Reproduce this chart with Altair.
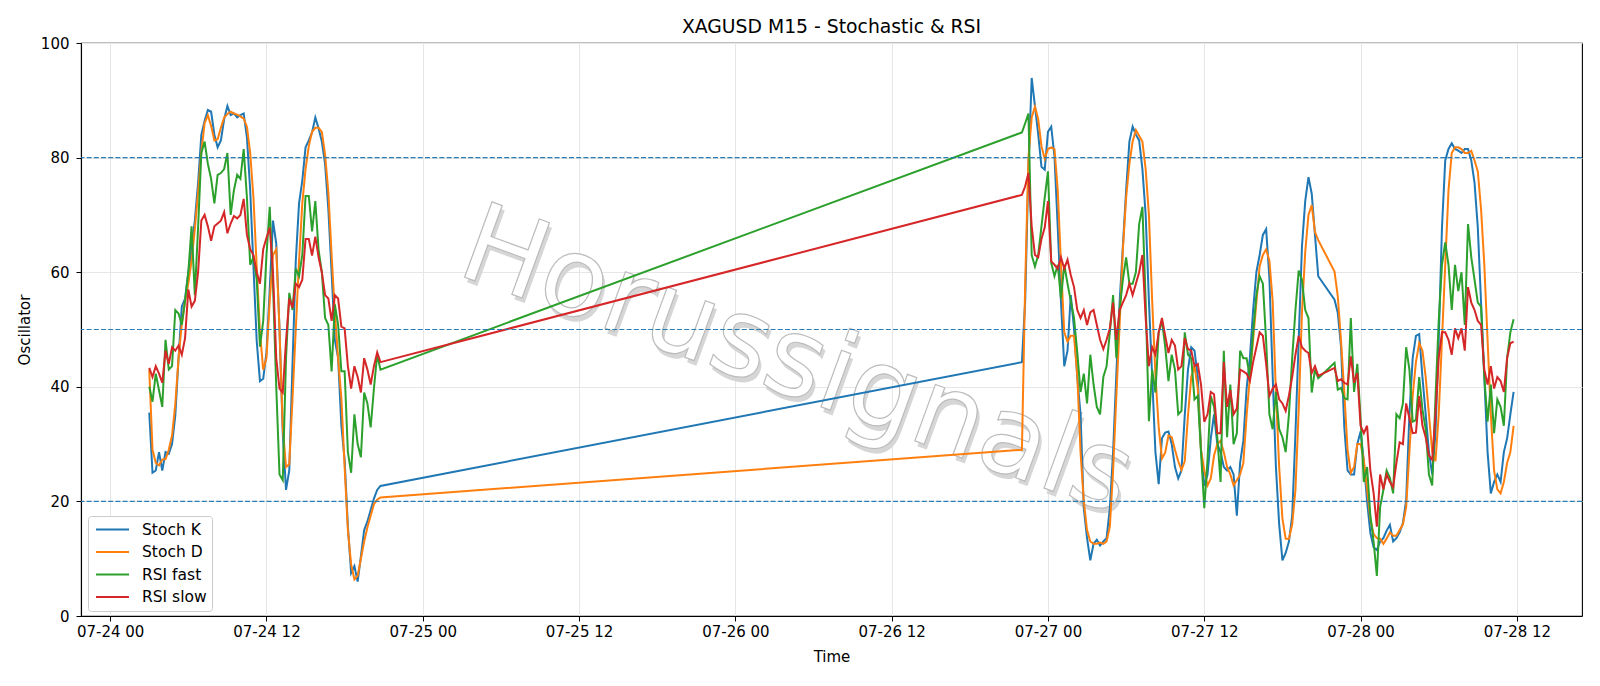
import altair as alt
import pandas as pd

# ---------------- data ----------------
SERIES = ["Stoch K", "Stoch D", "RSI fast", "RSI slow"]
COLORS = ["#1f77b4", "#ff7f0e", "#2ca02c", "#d62728"]

SEG1_START = "2020-07-24 03:00"   # Friday session
SEG2_START = "2020-07-26 22:00"   # Sunday re-open

# segment 1 (15-minute bars)
K1 = [35.5, 25, 25.4, 28.6, 25.4, 28.6, 28.3, 30, 35, 45,
      54, 55.4, 60, 64, 69, 75.6, 84, 86.4, 88.3, 88,
      84, 81.8, 83, 86.7, 89, 87.4, 87.7, 87, 87.4, 87.7,
      83.5, 74.3, 61, 48, 41, 41.4, 46, 57, 69, 65,
      50, 32, 22, 25.4, 44, 62, 72, 76, 81.8, 83,
      84.4, 87, 85.1, 82.8, 78.9, 71, 60, 48.2, 45, 33.2,
      27.3, 15.6, 7.5, 8.7, 6, 10.4, 15, 16.5, 18.5, 20.5,
      22, 22.7]
D1 = [43, 29, 26.7, 26.3, 27.3, 27.4, 29, 31.5, 37, 45,
      51, 55, 58, 62, 67.5, 74, 81, 86, 87.4, 85.5,
      83, 83.2, 85.2, 87, 87.6, 88, 87.7, 87.5, 87.2, 86.8,
      85.4, 80.8, 73, 61, 49.5, 43, 45, 55, 63, 64,
      50, 33, 26, 26.5, 38, 50, 62, 72, 78, 82,
      84.5, 85.2, 85.2, 84.5, 80.5, 74, 63, 53, 45, 38,
      26, 15, 9, 6.4, 7, 10, 13, 15.5, 17.5, 19.5,
      20.3, 20.7]
F1 = [40, 37.4, 42.3, 39.4, 36.5, 48.2, 43, 43.6, 53.4, 52.8,
      50.8, 55, 60, 68, 56, 67.8, 80.8, 82.8, 78.9, 76.3,
      72, 77, 77.3, 78, 80.8, 70, 74.3, 77, 76.3, 81.5,
      73, 61.3, 62.6, 58.7, 47, 51.5, 63, 71.4, 58, 40,
      24.7, 23.7, 45, 56.4, 53.4, 60.6, 59.3, 63, 73.3, 73.3,
      67.1, 72.4, 63.9, 60, 52, 50.8, 42.7, 54.4, 50.8, 42.7,
      42.7, 28.6, 25, 35.2, 30, 27.7, 39, 37.1, 32.9, 39.7,
      45.6, 43]
S1 = [43.3, 41.7, 43.6, 42.3, 40.7, 46.3, 44, 46.9, 46.3, 47.2,
      45.6, 48.5, 57, 54, 55, 60, 69, 70, 68, 65.5,
      68, 68.5, 69, 70.5, 66.8, 68.5, 69.8, 69.4, 70, 72.8,
      66.5, 64, 63, 60, 58, 64, 66, 67.8, 60, 45,
      39.7, 39, 48, 55.4, 53.8, 58, 57.4, 58.7, 65.8, 65.8,
      62.9, 66.2, 62.6, 60, 56, 55.4, 51.5, 56, 55.4, 50.5,
      50.2, 43.6, 39.7, 43.6, 41.7, 39, 45, 43, 40.4, 43.6,
      46, 44.3]

# segment 2 (15-minute bars, None = no bar during the daily break)
N = None
K2 = [44.3, 55, 78, 93.9, 89, 84.1, 78.4, 77.9, 84.5, 85.4,
      80.2, 67.8, 54.7, 43.6, 46.3, 56, 50.2, 41.7, 35.2, 18.8,
      13.6, 9.7, 12.6, 13.3, 12.3, 13, 13.6, 18.8, 28.6, 42.3,
      54.7, 64.5, 74.3, 82.8, 85.4, 84, 83, 78, 70, 55,
      41.7, 28.6, 23, 31, 32, 32.2, 30, 26, 24, 25.4,
      35, 43, 46.9, 46.3, 41.7, 29, 22.7, 24.7, 31, 35.2,
      30, 28.6, 26, 25.4, 26, 24.7, 17.5, 26.7, 30.6, 39.7,
      45, 53.4, 60, 63, 66.5, 67.5, 59, 42, 26, 16,
      9.7, 11, 13, 17.5, 31.9, 48.2, 64.5, 72.4, 76.6, 73.7,
      66.5, 59.3, N, N, N, N, 55.2, 52.9, 47, 33,
      25.4, 24.7, 24.7, 30, 32.2, 27, 20, 14.5, 12, 11.5,
      13, 13.6, 14.9, 15.9, 13, 13.6, 14.6, 16.2, 20.2, 35.2,
      45, 48.9, 49.2, 41.7, 35.2, 28.6, 24.7, 31.9, 48.2, 67.8,
      79.5, 81.5, 82.5, 81.5, 81.2, 80.8, 81.5, 81.5, 79.5, 75.6,
      67.8, 54.7, 41.7, 28.6, 21.4, 23.4, 24.7, 23.4, 28.6, 31,
      35.2, 39.1]
D2 = [29, 58, 80, 87, 88.9, 86.7, 82, 79.8, 81.5, 81.8,
      81.5, 74.3, 61.3, 49.5, 47.9, 48.9, 48.9, 42, 28.6, 20,
      15, 13, 12.6, 12.6, 12.8, 12.6, 13, 15.6, 25.4, 38.4,
      50.8, 63.9, 73, 78.9, 82.8, 84.8, 83.8, 82.8, 78, 70,
      55, 42, 33, 27.5, 28.5, 31.5, 31.2, 29, 27, 25.5,
      27, 35, 41.7, 43.6, 39.7, 29, 25.4, 22.8, 24, 28,
      30, 30.6, 28.6, 26, 24.7, 22.8, 23.7, 24.7, 26.7, 35,
      41.7, 48.2, 54.7, 61, 63, 64, 62, 55, 39, 26,
      17, 13.5, 13.5, 16, 22, 36, 53, 63.5, 70, 71.7,
      67, 65.6, N, N, N, N, 60.1, 55.8, 48, 39,
      29, 25, 26, 30, 30, 27.3, 22.1, 16.9, 14.3, 13.6,
      13.5, 12.6, 13.5, 14.6, 14, 14, 15, 16, 19, 28.6,
      38.4, 44.3, 47.6, 46.3, 41.7, 35.2, 28.6, 27, 35.2, 48.2,
      61.3, 74.3, 80.8, 81.8, 81.8, 81.5, 80.8, 80.8, 81.2, 79.5,
      77.6, 71, 61.3, 48.2, 35.2, 25.4, 22.1, 21.4, 23.4, 26.7,
      28.6, 33.2]
F2 = [84.4, 86, 87.7, 63, 61, 63, 68, 73, 77.6, 61.6,
      59.3, 61.3, 55.4, 61.3, 58, 55, 52, 46, 39.1, 42.3,
      37.1, 45.6, 40.4, 36.5, 35.2, 41.7, 43.6, 49.5, 56, 45,
      53.4, 58.7, 62.6, 58, 58, 60, 68.4, 71.4, 55, 34,
      43, 39, 49.5, 51.5, 47, 41, 45.6, 43, 35.2, 35.8,
      49.5, 45.6, 45, 37.8, 38.4, 28.6, 18.8, 27.3, 38.4, 36.5,
      31.2, 23.4, 46.3, 31.2, 40.4, 30, 31.9, 46.3, 45, 45,
      41.7, 49.5, 56, 59.3, 58, 48, 35.2, 32.6, 39.1, 32.6,
      31.2, 28.6, 35.2, 45, 53.4, 60.3, 58.7, 53.4, 52, 39,
      43, 41.5, N, N, N, N, 44.2, 39.5, 39.8, 38,
      37.8, 52, 39.1, 44, 34.5, 23.4, 26, 17.5, 13, 7,
      19, 22, 25.4, 24.1, 21.4, 35.2, 34.5, 37.1, 46.9, 43,
      33.9, 34.2, 41.7, 36, 32.6, 24.7, 22.8, 38, 51.5, 61.3,
      65.2, 61.3, 53.4, 61.3, 56.7, 60, 50.8, 68.4, 62.6, 58.7,
      54.7, 54, 41.7, 33.9, 40.4, 31.9, 37.8, 36.5, 33.2, 45,
      49.5, 51.8]
S2 = [73.5, 75, 77.3, 68, 63, 62.6, 65.8, 67.8, 72.4, 61.9,
      61.3, 60.6, 62.6, 60.6, 62.2, 59.5, 57.4, 53.4, 52, 53.4,
      50.8, 53, 53.4, 50.8, 48.2, 46.6, 48.2, 50.2, 54.7, 48.2,
      53.4, 54.7, 56, 58, 56, 58, 60, 63, 52, 43.6,
      46.9, 45.6, 49.5, 52, 48.9, 45.9, 48.2, 47.2, 43, 43.6,
      48.5, 46.6, 46.3, 43.6, 44, 40.4, 33.9, 35.2, 39.1, 38.7,
      31.9, 31.9, 44.3, 36.5, 39.4, 35.2, 36.2, 43, 42.7, 42.3,
      41, 44.3, 46.9, 49.5, 48.9, 44, 38.4, 39.7, 40.4, 37.8,
      37.1, 35.8, 38.5, 41.7, 45.6, 48.9, 46.9, 46.3, 45.9, 42.4,
      43.6, 41.9, N, N, N, N, 43.3, 41, 41.3, 40.7,
      40.4, 45.3, 40.7, 42.4, 33.2, 31.9, 33.2, 25.4, 21.5, 15.6,
      24.7, 22.1, 24.7, 23.4, 22.5, 26.7, 30.3, 30, 37.1, 34.5,
      31.9, 32, 38.4, 33.2, 31.2, 28, 27.3, 35.2, 45, 49.5,
      49.5, 48.2, 45.6, 50.2, 48.5, 50.2, 46.3, 57.4, 54.7, 53.4,
      51.5, 50.8, 43, 40.4, 43.6, 39.7, 41.7, 41, 39.1, 45,
      47.6, 47.9]

LEVELS = [20, 50, 80]
X_TICKS_H = [0, 12, 24, 36, 48, 60, 72, 84, 96, 108]   # hours after 07-24 00:00
X_DOMAIN_H = [-2.24, 113.0]

# ---------------- build long table ----------------
origin = pd.Timestamp("2020-07-24 00:00")
rows = []
for seg_start, seg in ((SEG1_START, (K1, D1, F1, S1)), (SEG2_START, (K2, D2, F2, S2))):
    times = pd.date_range(seg_start, periods=len(seg[0]), freq="15min")
    for name, vals in zip(SERIES, seg):
        for t, v in zip(times, vals):
            if v is None:
                continue
            rows.append({"series": name, "hours": (t - origin) / pd.Timedelta(hours=1), "value": v,
                         "order": SERIES.index(name)})
df = pd.DataFrame(rows)
df = df.sort_values(["order", "hours"]).reset_index(drop=True)

x_scale = alt.Scale(domain=X_DOMAIN_H, nice=False, zero=False)
y_scale = alt.Scale(domain=[0, 100], nice=False)

label_expr = "'07-' + (24 + floor(datum.value / 24)) + ' ' + (datum.value % 24 == 0 ? '00' : '12')"

lines = alt.Chart(df).mark_line(strokeWidth=2, clip=True).encode(
    x=alt.X("hours:Q", scale=x_scale, title="Time",
            axis=alt.Axis(values=X_TICKS_H, labelExpr=label_expr, grid=True,
                          labelPadding=3.5, titlePadding=10)),
    y=alt.Y("value:Q", scale=y_scale, title="Oscillator",
            axis=alt.Axis(values=[0, 20, 40, 60, 80, 100], grid=True,
                          labelPadding=7, titlePadding=8)),
    color=alt.Color("series:N", scale=alt.Scale(domain=SERIES, range=COLORS),
                    sort=SERIES,
                    legend=alt.Legend(title=None, orient="none", legendX=7, legendY=473,
                                      symbolType="M-2.2,0H2.2", symbolSize=225, symbolStrokeWidth=2,
                                      symbolOffset=11, labelOffset=21,
                                      labelFontSize=15.5, labelFont="DejaVu Sans", labelColor="black",
                                      padding=5, strokeColor="#cccccc", fillColor="white",
                                      cornerRadius=3, rowPadding=5.5)),
    detail="series:N",
    order="hours:Q",
)

levels = alt.Chart(pd.DataFrame({"level": LEVELS})).mark_rule(
    color="#1f77b4", strokeDash=[5, 2.2], strokeWidth=1.2, opacity=0.95
).encode(y=alt.Y("level:Q", scale=y_scale))

wm = pd.DataFrame({"t": ["Horussignals"]})
wm_shadow = alt.Chart(wm).mark_text(
    font="DejaVu Sans", fontSize=110, angle=20, fill="#d6d6d6", dx=4, dy=4, align="center", baseline="middle"
).encode(text="t:N", x=alt.value(716), y=alt.value(320))
wm_front = alt.Chart(wm).mark_text(
    font="DejaVu Sans", fontSize=110, angle=20, fill="#ffffff", stroke="#bcbcbc", strokeWidth=1.2,
    align="center", baseline="middle"
).encode(text="t:N", x=alt.value(716), y=alt.value(320))

chart = alt.layer(wm_shadow, wm_front, lines, levels).properties(
    width=1501, height=573,
    background="white",
    title=alt.TitleParams("XAGUSD M15 - Stochastic & RSI", fontSize=18.8, fontWeight="normal",
                          font="DejaVu Sans", color="black", offset=-1),
    autosize=alt.AutoSizeParams(type="none"),
    padding={"left": 81, "top": 43, "right": 18, "bottom": 70},
).configure_axis(
    labelFont="DejaVu Sans", titleFont="DejaVu Sans", labelFontSize=15, titleFontSize=15,
    labelColor="black", titleColor="black", tickColor="black", domainColor="black",
    tickSize=5, titleFontWeight="normal", gridColor="#e6e6e6", gridWidth=1,
    domainWidth=1.1,
).configure_view(
    stroke="black", strokeWidth=1.1
)

chart.save("out.html", embed_options={"renderer": "svg", "actions": False})
